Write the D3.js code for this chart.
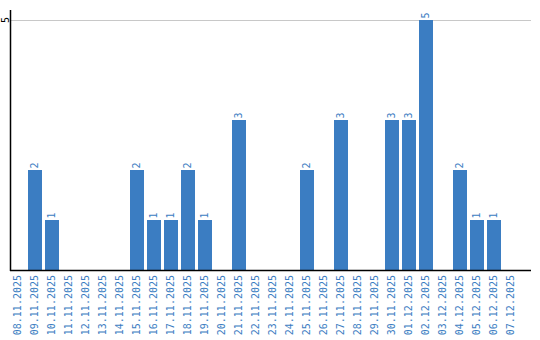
<!DOCTYPE html>
<html><head><meta charset="utf-8">
<script src="https://cdn.jsdelivr.net/npm/d3@7"></script>
<style>body{margin:0;background:#fff}svg{display:block}</style>
</head><body>
<script>
const categories = ["08.11.2025","09.11.2025","10.11.2025","11.11.2025","12.11.2025","13.11.2025","14.11.2025","15.11.2025","16.11.2025","17.11.2025","18.11.2025","19.11.2025","20.11.2025","21.11.2025","22.11.2025","23.11.2025","24.11.2025","25.11.2025","26.11.2025","27.11.2025","28.11.2025","29.11.2025","30.11.2025","01.12.2025","02.12.2025","03.12.2025","04.12.2025","05.12.2025","06.12.2025","07.12.2025"];
const values = [0,2,1,0,0,0,0,2,1,1,2,1,0,3,0,0,0,2,0,3,0,0,3,3,5,0,2,1,1,0];
const yTicks = [5];

const W = 540, H = 340;
const svg = d3.select("body").append("svg").attr("width", W).attr("height", H);
const x0 = 11, axisEnd = 531, yTop = 10, yBottom = 270;
const x = d3.scaleBand().domain(categories).range([x0, x0 + categories.length * 17]).padding(0);
const bw = x.bandwidth() - 3;
const y = d3.scaleLinear().domain([0, 5.2]).range([yBottom, yTop]);
const blue = "#3b7dc2";
const font = "'DejaVu Sans Mono', monospace";
const data = categories.map((c, i) => ({c, v: values[i]})).filter(d => d.v > 0);

// gridlines
svg.append("g").selectAll("line").data(yTicks).join("line")
  .attr("x1", x0).attr("x2", axisEnd)
  .attr("y1", d => Math.round(y(d)) + 0.5).attr("y2", d => Math.round(y(d)) + 0.5)
  .attr("stroke", "#c8c8c8").attr("stroke-width", 1);

// y tick labels
svg.append("g").selectAll("text").data(yTicks).join("text")
  .attr("transform", d => `translate(6,${y(d)}) rotate(-90)`)
  .attr("text-anchor", "middle").attr("dominant-baseline", "middle")
  .attr("font-family", font).attr("font-size", 10).attr("fill", "#000")
  .text(d => d);

// bars
svg.append("g").selectAll("rect").data(data).join("rect")
  .attr("x", d => x(d.c)).attr("width", bw)
  .attr("y", d => y(d.v)).attr("height", d => yBottom - y(d.v))
  .attr("fill", blue);

// value labels
svg.append("g").selectAll("text").data(data).join("text")
  .attr("transform", d => `translate(${x(d.c) + bw/2},${y(d.v) - 1.5}) rotate(-90)`)
  .attr("text-anchor", "start").attr("dominant-baseline", "middle")
  .attr("font-family", font).attr("font-size", 10).attr("fill", blue)
  .text(d => d.v);

// axes lines
svg.append("line").attr("x1", x0 - 0.5).attr("x2", x0 - 0.5).attr("y1", yTop).attr("y2", yBottom + 1)
  .attr("stroke", "#000").attr("stroke-width", 1.5);
svg.append("line").attr("x1", x0 - 1).attr("x2", axisEnd).attr("y1", yBottom + 0.5).attr("y2", yBottom + 0.5)
  .attr("stroke", "#000").attr("stroke-width", 1.5);

// x labels
svg.append("g").selectAll("text").data(categories).join("text")
  .attr("transform", d => `translate(${x(d) + bw/2},${yBottom + 5}) rotate(-90)`)
  .attr("text-anchor", "end").attr("dominant-baseline", "middle")
  .attr("font-family", font).attr("font-size", 10).attr("fill", blue)
  .text(d => d);
</script>
</body></html>
